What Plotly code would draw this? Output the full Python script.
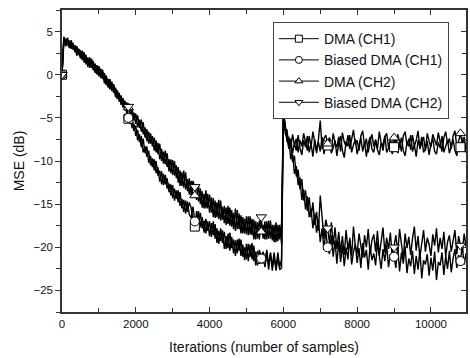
import plotly.graph_objects as go

# Iteration axis (sample index, every 50 samples)
ITERATIONS = list(range(0, 11000, 50))
MARKER_ITERS = [0, 1800, 3600, 5400, 7200, 9000, 10800]

SERIES_NAMES = ["DMA (CH1)", "Biased DMA (CH1)", "DMA (CH2)", "Biased DMA (CH2)"]
SERIES_SYMBOLS = ["square", "circle", "triangle-up", "triangle-down"]

MSE_DMA_CH1 = [
    0, 4.4, 3.6, 4.3, 3.2, 4.0, 3.0, 3.4, 2.2, 2.9,
    1.9, 2.8, 1.8, 2.3, 0.9, 1.7, 1.8, 0.6, 1.3, 0.0,
    0.9, -0.3, 0.6, -0.7, -0.2, -1.5, -0.8, -1.9, -1.1, -2.2,
    -1.9, -3.1, -2.6, -3.8, -3.0, -4.4, -5.1, -4.6, -6.2, -5.7,
    -7.1, -6.4, -7.8, -7.1, -9.0, -8.3, -9.5, -8.8, -10.5, -9.7,
    -11.1, -10.0, -11.7, -11.1, -12.7, -11.5, -12.7, -12.0, -13.6, -12.7,
    -14.3, -13.2, -14.4, -13.4, -15.2, -14.4, -15.9, -14.6, -15.9, -14.8,
    -15.4, -16.9, -17.6, -15.8, -17.3, -16.0, -17.8, -16.9, -18.4, -17.0,
    -18.7, -17.2, -18.6, -17.3, -19.5, -18.1, -19.3, -18.0, -20.2, -18.7,
    -20.1, -18.3, -20.1, -19.1, -21.0, -19.1, -20.4, -19.1, -21.1, -20.0,
    -21.4, -19.6, -21.1, -19.5, -21.6, -20.5, -22.1, -20.3, -21.3, -20.6,
    -22.2, -20.3, -22.1, -20.7, -22.7, -21.1, -22.4, -20.6, -22.3, -21.4,
    -4.4, -6.8, -7.3, -8.6, -7.4, -9.1, -7.9, -8.8, -7.0, -8.5,
    -9.3, -7.6, -8.4, -7.1, -9.0, -8.0, -9.5, -7.5, -8.7, -7.8,
    -8.9, -7.2, -9.2, -8.1, -8.2, -7.3, -9.1, -8.5, -7.6, -9.4,
    -8.0, -7.1, -8.8, -9.6, -7.7, -8.3, -7.0, -9.0, -8.1, -7.5,
    -9.2, -8.4, -7.3, -8.9, -7.8, -9.5, -8.0, -7.2, -8.6, -9.0,
    -7.6, -8.7, -9.3, -7.9, -8.2, -7.1, -9.0, -8.5, -7.7, -9.2,
    -8.4, -7.5, -9.1, -8.0, -7.3, -8.8, -9.4, -7.8, -8.3, -7.0,
    -8.9, -8.1, -9.5, -7.6, -8.4, -7.2, -9.0, -8.6, -7.7, -9.3,
    -8.0, -7.4, -8.9, -9.2, -7.8, -8.5, -7.1, -9.0, -8.3, -7.6,
    -9.1, -8.2, -7.5, -8.8, -9.4, -7.9, -8.4, -7.3, -8.7, -9.0,
]

MSE_BIASED_CH1 = [
    0, 4.1, 3.3, 4.0, 3.9, 3.0, 3.6, 2.7, 3.2, 2.3,
    2.8, 1.7, 2.6, 1.4, 1.9, 0.8, 1.4, 1.5, 0.3, 1.0,
    -0.1, 0.7, -0.5, 0.1, -1.2, -0.5, -1.6, -0.8, -2.1, -1.5,
    -2.8, -2.2, -3.5, -2.7, -3.8, -3.5, -5.0, -5.7, -5.1, -6.5,
    -5.9, -7.6, -6.9, -8.4, -7.4, -9.1, -8.3, -10.2, -9.4, -10.7,
    -9.8, -11.4, -10.7, -12.4, -11.2, -12.8, -11.6, -13.2, -12.6, -14.0,
    -12.8, -14.6, -13.4, -14.8, -13.6, -15.5, -14.5, -16.1, -14.7, -16.2,
    -16.6, -15.3, -17.0, -17.1, -15.8, -17.7, -16.5, -18.3, -16.7, -18.1,
    -17.0, -18.8, -17.0, -19.0, -17.8, -19.6, -17.8, -19.5, -18.2, -20.2,
    -18.4, -20.4, -18.8, -20.7, -19.2, -20.7, -19.0, -21.0, -19.7, -21.5,
    -19.6, -21.6, -19.7, -21.4, -19.8, -22.1, -20.4, -21.9, -21.3, -20.5,
    -22.3, -20.5, -22.6, -20.6, -22.2, -20.6, -22.7, -21.2, -22.6, -22.4,
    -4.4, -5.7, -7.8, -7.5, -9.8, -9.2, -11.5, -10.6, -12.8, -11.9,
    -14.5, -13.3, -15.6, -14.1, -16.5, -15.5, -17.8, -16.1, -18.3, -16.8,
    -19.4, -17.8, -20.3, -18.1, -20.0, -20.8, -18.6, -21.1, -19.2, -21.9,
    -19.3, -21.7, -19.8, -22.2, -20.0, -21.4, -18.9, -22.0, -20.5, -19.6,
    -21.8, -20.1, -22.4, -19.5, -21.2, -20.3, -22.6, -19.8, -21.5, -20.7,
    -22.1, -19.4, -21.0, -22.5, -20.2, -21.6, -19.7, -22.3, -20.8, -21.4,
    -21.1, -22.4, -20.0, -22.8, -20.6, -21.9, -19.9, -23.0, -21.3, -22.2,
    -20.4, -23.1, -21.0, -22.6, -20.3, -23.6, -21.5, -22.0, -20.8, -23.3,
    -21.2, -22.7, -20.5, -23.8, -21.7, -22.1, -20.6, -23.2, -21.0, -22.5,
    -20.4, -22.9, -21.3, -20.2, -22.4, -20.9, -21.6, -19.8, -22.0, -20.7,
]

MSE_DMA_CH2 = [
    0, 3.7, 4.2, 3.4, 3.9, 3.1, 3.7, 2.6, 3.3, 2.4,
    2.1, 2.7, 1.4, 2.2, 1.1, 2.0, 0.8, 1.3, 0.2, 1.1,
    -0.2, 0.6, -0.4, 0.2, -1.1, -0.5, -1.7, -0.9, -2.0, -1.6,
    -2.8, -2.1, -3.3, -2.8, -4.1, -3.2, -3.8, -4.8, -4.0, -5.3,
    -4.5, -6.1, -5.2, -6.6, -5.5, -7.3, -6.3, -8.0, -6.8, -8.3,
    -7.3, -9.0, -7.9, -9.8, -8.6, -10.3, -8.8, -10.7, -9.8, -11.4,
    -9.9, -11.7, -10.5, -12.5, -11.1, -12.9, -11.1, -13.3, -12.1, -13.9,
    -12.3, -14.2, -14.0, -12.7, -14.7, -13.2, -15.4, -13.8, -15.5, -13.8,
    -16.0, -14.2, -16.5, -14.6, -16.5, -14.5, -16.9, -15.3, -17.2, -15.4,
    -17.3, -15.4, -17.6, -16.0, -18.1, -15.7, -17.9, -16.3, -18.4, -16.7,
    -18.5, -16.4, -18.5, -16.7, -19.1, -17.0, -19.0, -16.9, -18.2, -17.4,
    -19.1, -17.0, -19.0, -16.9, -19.2, -17.4, -19.4, -17.4, -19.1, -17.2,
    -4.4, -6.3, -7.7, -7.2, -8.5, -6.9, -8.2, -7.4, -9.0, -7.6,
    -8.3, -6.8, -7.9, -8.8, -7.1, -8.4, -6.6, -7.7, -9.1, -7.5,
    -5.3, -8.6, -7.4, -7.0, -8.0, -7.3, -8.7, -6.8, -7.9, -8.4,
    -7.2, -8.9, -6.7, -7.8, -8.3, -7.0, -8.6, -7.5, -6.4, -8.1,
    -7.6, -8.8, -7.1, -6.5, -8.2, -7.4, -9.0, -7.7, -6.9, -8.3,
    -7.5, -8.6, -6.6, -7.9, -8.8, -7.2, -6.8, -8.4, -7.6, -8.1,
    -7.3, -8.5, -6.9, -7.8, -8.9, -7.1, -6.6, -8.2, -7.4, -8.7,
    -7.0, -8.3, -7.6, -6.5, -8.6, -7.9, -7.2, -8.8, -6.8, -7.7,
    -8.4, -6.9, -7.5, -8.2, -6.7, -7.8, -8.9, -7.3, -6.6, -8.0,
    -7.4, -8.6, -7.1, -6.5, -8.3, -7.7, -6.8, -8.1, -7.2, -8.8,
]

MSE_BIASED_CH2 = [
    0, 4.3, 3.5, 3.7, 3.1, 3.8, 2.9, 3.4, 2.5, 3.0,
    2.7, 1.8, 2.5, 1.2, 2.0, 1.1, 1.8, 0.5, 1.2, 0.3,
    1.0, -0.4, 0.3, -1.0, -0.1, -1.3, -0.5, -1.7, -1.2, -2.6,
    -1.8, -3.0, -2.4, -3.7, -3.1, -4.2, -3.7, -3.7, -5.1, -4.4,
    -5.7, -4.7, -6.2, -5.2, -6.9, -6.1, -7.7, -6.6, -8.0, -7.1,
    -8.8, -7.6, -9.2, -8.0, -10.0, -8.9, -10.4, -9.1, -11.2, -9.8,
    -11.6, -10.0, -12.0, -10.7, -12.9, -11.3, -13.1, -11.3, -13.5, -12.0,
    -14.0, -12.3, -13.0, -14.5, -12.8, -15.0, -13.5, -15.5, -13.4, -15.5,
    -13.9, -16.0, -14.3, -16.6, -14.8, -16.7, -14.6, -16.8, -15.2, -17.4,
    -15.2, -17.5, -15.7, -17.9, -15.5, -17.9, -16.1, -18.4, -16.5, -18.4,
    -16.4, -18.6, -16.4, -18.6, -16.8, -19.1, -17.1, -19.1, -16.5, -19.0,
    -17.0, -19.1, -16.9, -19.0, -17.4, -19.4, -17.1, -19.3, -17.4, -19.6,
    -4.4, -6.3, -6.4, -8.6, -7.9, -10.1, -9.4, -11.8, -11.0, -13.3,
    -12.1, -14.6, -13.4, -15.8, -14.2, -16.5, -14.8, -17.4, -15.9, -18.1,
    -14.0, -16.5, -19.0, -16.8, -17.8, -19.5, -17.1, -19.7, -17.7, -20.2,
    -18.2, -20.6, -18.7, -20.9, -18.0, -20.3, -19.1, -21.0, -17.6, -19.8,
    -20.7, -18.4, -19.9, -21.2, -18.6, -20.0, -17.9, -20.8, -19.2, -18.5,
    -20.5, -18.1, -21.0, -19.4, -17.7, -20.6, -18.9, -20.2, -18.3, -21.1,
    -20.0, -18.6, -20.7, -17.9, -19.6, -21.3, -18.4, -20.1, -18.8, -20.9,
    -19.0, -17.6, -20.4, -18.7, -21.2, -19.3, -18.0, -20.5, -18.9, -19.7,
    -21.0, -18.5, -19.8, -17.8, -20.6, -18.9, -20.2, -18.2, -21.1, -19.4,
    -18.6, -20.5, -19.1, -18.0, -20.8, -18.7, -19.8, -20.6, -18.4, -19.9,
]

ALL_SERIES = [MSE_DMA_CH1, MSE_BIASED_CH1, MSE_DMA_CH2, MSE_BIASED_CH2]
for s in ALL_SERIES:
    assert len(s) == len(ITERATIONS), len(s)

FONT = "Liberation Sans, Arial, sans-serif"
AXIS_COLOR = "#333333"

fig = go.Figure()

# noisy curves
for name, vals in zip(SERIES_NAMES, ALL_SERIES):
    fig.add_trace(go.Scatter(
        x=ITERATIONS, y=vals, mode="lines",
        line=dict(color="black", width=1.4),
        showlegend=False, hoverinfo="skip",
    ))

# markers placed on the curves
for name, sym, vals in zip(SERIES_NAMES, SERIES_SYMBOLS, ALL_SERIES):
    idx = [ITERATIONS.index(m) for m in MARKER_ITERS]
    fig.add_trace(go.Scatter(
        x=[ITERATIONS[i] for i in idx], y=[vals[i] for i in idx],
        mode="markers",
        marker=dict(symbol=sym, size=9, color="white",
                    line=dict(color="black", width=1)),
        showlegend=False,
    ))

# legend entries
for name, sym in zip(SERIES_NAMES, SERIES_SYMBOLS):
    fig.add_trace(go.Scatter(
        x=[None], y=[None], mode="lines+markers", name=name,
        line=dict(color="black", width=1),
        marker=dict(symbol=sym, size=7, color="white",
                    line=dict(color="black", width=1)),
    ))

# dummy trace to anchor the right-side tick axis
fig.add_trace(go.Scatter(x=[None], y=[None], yaxis="y2", showlegend=False))

YRANGE = [-27.5, 7.5]

fig.update_layout(
    width=470, height=358,
    margin=dict(l=62, r=2, t=10, b=46),
    paper_bgcolor="white", plot_bgcolor="white",
    font=dict(family=FONT, color="#111111", size=12),
    xaxis=dict(
        range=[0, 10950], showgrid=False, zeroline=False,
        showline=True, linecolor=AXIS_COLOR, linewidth=1.5, mirror="ticks",
        ticks="inside", ticklen=5, tickwidth=1.2, tickcolor=AXIS_COLOR,
        tick0=0, dtick=2000, tickformat="d",
        minor=dict(dtick=1000, ticks="inside", ticklen=4, tickcolor=AXIS_COLOR, tickwidth=1.2),
        tickfont=dict(size=11.5),
        title=dict(text="Iterations (number of samples)", font=dict(size=14), standoff=14),
    ),
    yaxis=dict(
        range=YRANGE, showgrid=False, zeroline=False,
        showline=True, linecolor=AXIS_COLOR, linewidth=1.5, mirror=True,
        ticks="outside", ticklen=5, tickwidth=1.2, tickcolor=AXIS_COLOR,
        tick0=0, dtick=5,
        minor=dict(dtick=2.5, ticks="outside", ticklen=4, tickcolor=AXIS_COLOR, tickwidth=1.2),
        tickfont=dict(size=11.5),
        title=dict(text="MSE (dB)", font=dict(size=14), standoff=6),
    ),
    yaxis2=dict(
        range=YRANGE, overlaying="y", side="right", anchor="x",
        showgrid=False, zeroline=False, showline=False, showticklabels=False,
        ticks="inside", ticklen=5, tickwidth=1.2, tickcolor=AXIS_COLOR,
        tick0=0, dtick=5,
        minor=dict(dtick=2.5, ticks="inside", ticklen=4, tickcolor=AXIS_COLOR, tickwidth=1.2),
    ),
    legend=dict(
        x=0.522, y=0.96, xanchor="left", yanchor="top",
        bgcolor="white", bordercolor="#444444", borderwidth=1,
        font=dict(size=14, family=FONT),
        tracegroupgap=0, itemwidth=40,
    ),
    showlegend=True,
)

fig.write_html("out.html")
